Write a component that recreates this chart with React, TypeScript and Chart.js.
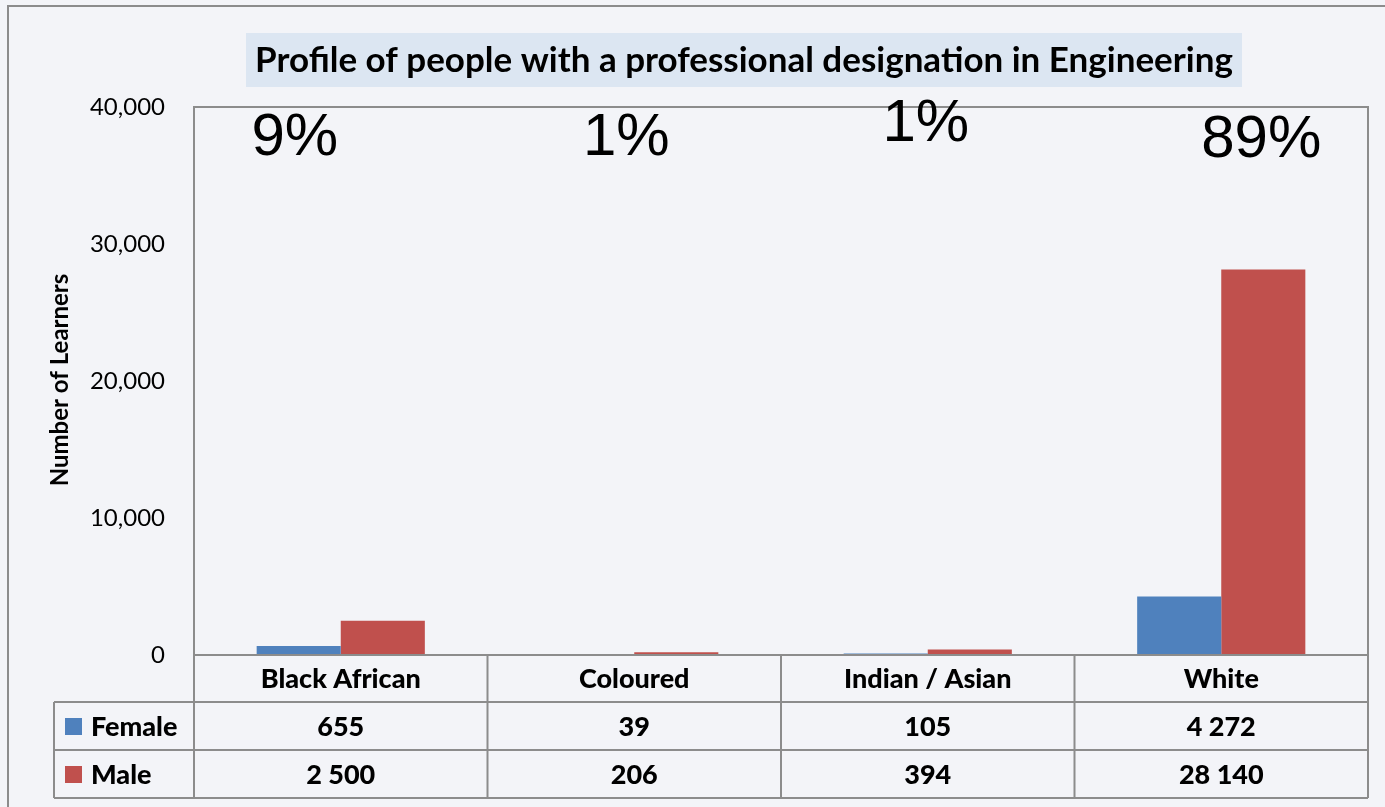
import React, { useEffect, useRef } from "react";
import { Chart, registerables } from "chart.js";

Chart.register(...registerables);

const categories = ["Black African", "Coloured", "Indian / Asian", "White"];
const femaleValues = [655, 39, 105, 4272];
const maleValues = [2500, 206, 394, 28140];
const shareLabels = ["9%", "1%", "1%", "89%"];
const seriesNames = ["Female", "Male"];
const yTickValues = [0, 10000, 20000, 30000, 40000];
const chartTitle = "Profile of people with a professional designation in Engineering";
const yTitle = "Number of Learners";

const FEMALE_COLOR = "#4f81bd";
const MALE_COLOR = "#c0504d";
const LINE = "#8c8c8c";
const BG = "#f3f4f8";
const FONT = "Lato, 'Open Sans', sans-serif";

// annotation placement (offset from category centre, and y) for share labels
const shareOffsets = [
  { dx: -46, y: 138 },
  { dx: -8, y: 138 },
  { dx: -2, y: 124 },
  { dx: 40, y: 140 },
];

const fmtTable = (v: number) => v.toLocaleString("en-US").replace(/,/g, " ");

const decorPlugin = {
  id: "decor",
  beforeDraw(chart: any) {
    const ctx = chart.ctx;
    ctx.save();
    ctx.fillStyle = BG;
    ctx.fillRect(0, 0, chart.width, chart.height);
    ctx.strokeStyle = LINE;
    ctx.lineWidth = 2;
    ctx.strokeRect(8, 6, chart.width + 10, chart.height + 10);
    ctx.restore();
  },
  afterDraw(chart: any) {
    const ctx = chart.ctx;
    const area = chart.chartArea;
    const xs = chart.scales.x;
    const n = categories.length;
    const catW = (area.right - area.left) / n;
    ctx.save();

    // Title box
    const titleCx = 744;
    const titleCy = 60;
    ctx.font = `bold 30px ${FONT}`;
    const measured = ctx.measureText(chartTitle).width;
    const size = 30 * (978 / measured);
    ctx.font = `bold ${size}px ${FONT}`;
    ctx.fillStyle = "#dce6f2";
    ctx.fillRect(246, 33, 996, 54);
    ctx.fillStyle = "#000";
    ctx.textAlign = "center";
    ctx.textBaseline = "middle";
    ctx.fillText(chartTitle, titleCx, titleCy + 1);

    // plot border (top, right)
    ctx.strokeStyle = LINE;
    ctx.lineWidth = 2;
    ctx.beginPath();
    ctx.moveTo(area.left, area.top);
    ctx.lineTo(area.right, area.top);
    ctx.lineTo(area.right, area.bottom);
    ctx.stroke();

    // y axis title
    ctx.save();
    ctx.translate(60, 380);
    ctx.rotate(-Math.PI / 2);
    ctx.font = `bold 24px ${FONT}`;
    ctx.fillStyle = "#000";
    ctx.textAlign = "center";
    ctx.textBaseline = "middle";
    ctx.fillText(yTitle, 0, 0);
    ctx.restore();

    // share labels
    ctx.font = `60px 'Liberation Sans', Arial, sans-serif`;
    ctx.fillStyle = "#000";
    ctx.textAlign = "center";
    ctx.textBaseline = "middle";
    shareLabels.forEach((s, i) => {
      const cx = xs.getPixelForValue(i);
      ctx.fillText(s, cx + shareOffsets[i].dx, shareOffsets[i].y);
    });

    // data table
    const rowH = [47, 48, 48];
    const y0 = area.bottom;
    const y1 = y0 + rowH[0];
    const y2 = y1 + rowH[1];
    const y3 = y2 + rowH[2];
    const legendLeft = 54;
    ctx.strokeStyle = LINE;
    ctx.lineWidth = 2;
    ctx.beginPath();
    ctx.moveTo(area.left, y0);
    ctx.lineTo(area.right, y0);
    [y1, y2, y3].forEach((y) => {
      ctx.moveTo(legendLeft, y);
      ctx.lineTo(area.right, y);
    });
    ctx.moveTo(legendLeft, y1);
    ctx.lineTo(legendLeft, y3);
    for (let i = 0; i <= n; i++) {
      const x = area.left + i * catW;
      ctx.moveTo(x, y0);
      ctx.lineTo(x, y3);
    }
    ctx.stroke();

    ctx.fillStyle = "#000";
    ctx.font = `900 27px ${FONT}`;
    ctx.textAlign = "center";
    ctx.textBaseline = "middle";
    categories.forEach((c, i) => {
      const cx = xs.getPixelForValue(i);
      ctx.fillText(c, cx, (y0 + y1) / 2 + 1);
      ctx.fillText(fmtTable(femaleValues[i]), cx, (y1 + y2) / 2 + 1);
      ctx.fillText(fmtTable(maleValues[i]), cx, (y2 + y3) / 2 + 1);
    });

    // legend keys
    const colors = [FEMALE_COLOR, MALE_COLOR];
    ctx.textAlign = "left";
    seriesNames.forEach((name, k) => {
      const top = k === 0 ? y1 : y2;
      const cy = (top + (k === 0 ? y2 : y3)) / 2;
      ctx.fillStyle = colors[k];
      ctx.fillRect(65, cy - 8, 17, 17);
      ctx.fillStyle = "#000";
      ctx.fillText(name, 91, cy + 1);
    });

    ctx.restore();
  },
};

export default function App() {
  const ref = useRef<HTMLCanvasElement>(null);
  useEffect(() => {
    if (!ref.current) return;
    const chart = new Chart(ref.current, {
      type: "bar",
      data: {
        labels: categories,
        datasets: [
          {
            label: seriesNames[0],
            data: femaleValues,
            backgroundColor: FEMALE_COLOR,
            categoryPercentage: 0.573,
            barPercentage: 1,
          },
          {
            label: seriesNames[1],
            data: maleValues,
            backgroundColor: MALE_COLOR,
            categoryPercentage: 0.573,
            barPercentage: 1,
          },
        ],
      },
      options: {
        responsive: false,
        animation: false,
        layout: { padding: { left: 0, top: 107, right: 17, bottom: 152 } },
        plugins: {
          legend: { display: false },
          title: { display: false },
          tooltip: { enabled: false },
        },
        scales: {
          x: {
            display: false,
          },
          y: {
            min: 0,
            max: 40000,
            afterFit: (scale: any) => {
              scale.width = 194;
            },
            afterBuildTicks: (scale: any) => {
              scale.ticks = yTickValues.map((v) => ({ value: v }));
            },
            grid: { display: false },
            border: { display: true, color: LINE, width: 2 },
            ticks: {
              padding: 21,
              color: "#000",
              font: { family: FONT, size: 24 },
              callback: (v: any) => Number(v).toLocaleString("en-US"),
            },
          },
        },
      },
      plugins: [decorPlugin],
    });
    return () => chart.destroy();
  }, []);
  return (
    <div style={{ position: "absolute", left: 0, top: 0, width: 1385, height: 807 }}>
      <canvas ref={ref} width={1385} height={807} />
    </div>
  );
}
